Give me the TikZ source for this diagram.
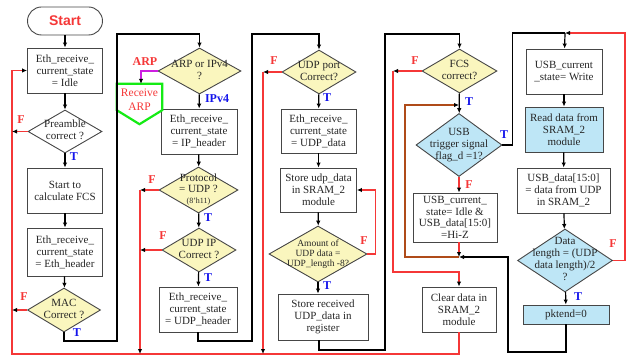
\documentclass[tikz,border=0pt]{standalone}
\usepackage{fontspec}
\setmainfont{Liberation Serif}
\newfontfamily\sansbold{Liberation Sans}
\usetikzlibrary{shapes.geometric,arrows.meta}

\definecolor{dyellow}{RGB}{250,246,190}
\definecolor{dblue}{RGB}{190,230,246}
\definecolor{fred}{RGB}{245,55,55}
\definecolor{tblue}{RGB}{20,20,235}
\definecolor{lbrown}{RGB}{175,75,25}
\definecolor{lmag}{RGB}{205,30,225}
\definecolor{agreen}{RGB}{20,235,20}
\definecolor{edge}{RGB}{70,70,70}

\newcommand{\dlines}[1]{\raisebox{-2.7pt}[0pt][0pt]{\makebox[0pt]{\begin{tabular}{@{}c@{}}#1\end{tabular}}}}

\tikzset{
  procbox/.style={draw=edge, line width=0.9pt, fill=white, text=black!85, align=center,
    inner sep=1pt, font=\fontsize{11}{12}\selectfont},
  condbox/.style={diamond, draw=edge, line width=0.9pt, fill=dyellow, text=black!85,
    inner sep=0pt, font=\fontsize{11}{12}\selectfont},
  flowline/.style={-{Latex[length=5pt,width=4.5pt]}, line width=1.2pt, black},
  joinline/.style={line width=1.2pt, black},
  falseline/.style={-{Latex[length=5pt,width=4.5pt,color=black]}, line width=1.2pt, fred},
  tlabel/.style={text=tblue, font=\bfseries\fontsize{12}{12}\selectfont, inner sep=0pt},
  flabel/.style={text=fred, font=\bfseries\fontsize{12}{12}\selectfont, inner sep=0pt},
}

\begin{document}
\begin{tikzpicture}[x=1pt,y=-1pt]
  \useasboundingbox (0,0) rectangle (629,358);

  % column 1
  \node[procbox, rounded corners=14pt, minimum width=75pt, minimum height=28pt,
    text=fred, font=\sansbold\bfseries\fontsize{14}{14}\selectfont] (start) at (65,21) {Start};
  \node[procbox, minimum width=75pt, minimum height=45pt] (idle) at (65,70.5)
    {Eth\_receive\_\\current\_state\\= Idle};
  \node[condbox, fill=white, minimum width=74pt, minimum height=43pt] (pre) at (65,131.5)
    {\dlines{Preamble\\correct ?}};
  \node[procbox, minimum width=75pt, minimum height=45pt] (fcs) at (65,190.5)
    {Start to\\calculate FCS};
  \node[procbox, minimum width=75pt, minimum height=48pt] (ethh) at (65,252)
    {Eth\_receive\_\\current\_state\\= Eth\_header};
  \node[condbox, minimum width=73pt, minimum height=44pt] (mac) at (64,310)
    {\dlines{MAC\\Correct ?}};

  % column 2
  \node[condbox, minimum width=83pt, minimum height=46pt] (arp) at (199.5,71)
    {\dlines{ARP or IPv4\\?}};
  \node[text=fred, align=center, inner sep=0pt, minimum width=45pt, minimum height=32pt,
    font=\fontsize{11.5}{14}\selectfont] (rarp) at (139.5,100) {Receive\\ARP};
  \node[procbox, minimum width=76pt, minimum height=45pt] (iph) at (199,131.5)
    {Eth\_receive\_\\current\_state\\= IP\_header};
  \node[condbox, minimum width=79pt, minimum height=46pt, font=\fontsize{11}{11}\selectfont]
    (proto) at (198.5,190)
    {\dlines{Protocol\\= UDP ?\\{\fontsize{8}{8}\selectfont(8'h11)}}};
  \node[condbox, minimum width=74pt, minimum height=44pt] (udpip) at (199,250)
    {\dlines{UDP IP\\Correct ?}};
  \node[procbox, minimum width=78pt, minimum height=45pt] (udph) at (198,309.5)
    {Eth\_receive\_\\current\_state\\= UDP\_header};

  % column 3
  \node[condbox, minimum width=74pt, minimum height=44pt] (udpport) at (319,72)
    {\dlines{UDP port\\Correct?}};
  \node[procbox, minimum width=75pt, minimum height=44pt] (udpd) at (318.5,131)
    {Eth\_receive\_\\current\_state\\= UDP\_data};
  \node[procbox, minimum width=76pt, minimum height=44pt] (sram) at (318.5,190)
    {Store udp\_data\\in SRAM\_2\\module};
  \node[condbox, minimum width=98pt, minimum height=56pt, font=\fontsize{9.5}{10}\selectfont]
    (amount) at (318,254) {\dlines{Amount of\\UDP data =\\UDP\_length -8?}};
  \node[procbox, minimum width=90pt, minimum height=46pt] (reg) at (323,317)
    {Store received\\UDP\_data in\\register};

  % column 4
  \node[condbox, minimum width=75pt, minimum height=44pt] (fcsd) at (459.5,71)
    {\dlines{FCS\\correct?}};
  \node[condbox, fill=dblue, minimum width=86pt, minimum height=63pt] (usb) at (459,145)
    {\dlines{USB\\trigger signal\\flag\_d =1?}};
  \node[procbox, minimum width=84pt, minimum height=49pt, font=\fontsize{11}{11.7}\selectfont]
    (usbidle) at (455,217.5)
    {USB\_current\_\\state= Idle \&\\USB\_data[15:0]\\=Hi-Z};
  \node[procbox, minimum width=74pt, minimum height=45pt] (clear) at (459,309.5)
    {Clear data in\\SRAM\_2\\module};

  % column 5
  \node[procbox, minimum width=76pt, minimum height=45pt] (write) at (564,71.5)
    {USB\_current\\\_state= Write};
  \node[procbox, fill=dblue, minimum width=78pt, minimum height=45pt] (read) at (564,129.5)
    {Read data from\\SRAM\_2\\module};
  \node[procbox, minimum width=93pt, minimum height=45pt] (usbd) at (563.5,190.5)
    {USB\_data[15:0]\\= data from UDP\\in SRAM\_2};
  \node[condbox, fill=dblue, minimum width=95pt, minimum height=63pt] (dlen) at (565,260.5)
    {\dlines{Data\\length = (UDP\\data length)/2\\?}};
  \node[procbox, fill=dblue, minimum width=86pt, minimum height=19pt] (pkt) at (566,314.5)
    {pktend=0};

  % labels
  \node[flabel] (fpre) at (21,120) {F};
  \node[tlabel] (tpre) at (74,157) {T};
  \node[flabel] (fmac) at (24,297) {F};
  \node[tlabel] (tmac) at (77,333) {T};
  \node[flabel] (farp) at (145,62) {ARP};
  \node[tlabel] (tarp) at (217,99) {IPv4};
  \node[flabel] (fproto) at (152,180) {F};
  \node[tlabel] (tproto) at (208,218) {T};
  \node[flabel] (fudpip) at (163,236) {F};
  \node[tlabel] (tudpip) at (208,278) {T};
  \node[flabel] (fport) at (274,61) {F};
  \node[tlabel] (tport) at (327,98) {T};
  \node[flabel] (famount) at (364,241) {F};
  \node[tlabel] (tamount) at (327,286) {T};
  \node[flabel] (ffcs) at (415,61) {F};
  \node[tlabel] (tfcs) at (469,102) {T};
  \node[tlabel] (tusb) at (504,135) {T};
  \node[flabel] (fusb) at (469,185) {F};
  \node[flabel] (fdlen) at (613,244) {F};
  \node[tlabel] (tdlen) at (578,297) {T};

  % junctions
  \coordinate (lred) at (12,354);
  \coordinate (lp) at (140,354);
  \coordinate (lu) at (263,354);
  \coordinate (lf) at (393,272);
  \coordinate (c1a) at (117,341);
  \coordinate (c1b) at (117,34);
  \coordinate (c2a) at (252,341);
  \coordinate (c2b) at (252,34);
  \coordinate (c3a) at (385,350);
  \coordinate (c3b) at (385,34);
  \coordinate (top5) at (565,33);
  \coordinate (j4) at (459,257);
  \coordinate (br) at (405,105);
  \coordinate (c5a) at (508,352);

  % receive ARP outline
  \draw[agreen, line width=2.2pt, line join=miter] (rarp.north west) -- (rarp.north east)
    -- ([yshift=6pt]rarp.south east) -- ([yshift=-8pt]rarp.south)
    -- ([yshift=6pt]rarp.south west) -- cycle;

  % main flow
  \draw[flowline] (start) -- (idle);
  \draw[flowline] (idle) -- (pre);
  \draw[flowline] (pre) -- (fcs);
  \draw[flowline] (fcs) -- (ethh);
  \draw[flowline] (ethh) -- (mac);
  \draw[flowline] (mac.south) |- (c1a) -- (c1b) -| (arp.north);
  \draw[flowline] (arp) -- (iph);
  \draw[flowline] (iph) -- (proto);
  \draw[flowline] (proto) -- (udpip);
  \draw[flowline] (udpip) -- (udph);
  \draw[flowline] (udph.south) |- (c2a) -- (c2b) -| (udpport.north);
  \draw[flowline] (udpport) -- (udpd);
  \draw[flowline] (udpd) -- (sram);
  \draw[flowline] (sram) -- (amount);
  \draw[flowline] (amount.south) -- (amount.south |- reg.north);
  \draw[flowline] ([xshift=-4pt]reg.south) |- (c3a) -- (c3b) -| (fcsd.north);
  \draw[flowline] (fcsd) -- (usb);
  \draw[joinline] (usb.east) -- ++(10,0) |- (top5);
  \draw[flowline] (top5) -- (write);
  \draw[flowline] (write) -- (read);
  \draw[flowline] (read) -- (usbd);
  \draw[flowline] (usbd) -- (dlen);
  \draw[flowline] (dlen) -- (pkt);
  \draw[flowline] (pkt.south) |- (c5a) |- (j4);

  % false branches
  \draw[falseline] (clear.south) |- (lred) |- (idle.west);
  \draw[falseline] (pre.west) -- (pre.west -| lred);
  \draw[falseline] (mac.west) -- (mac.west -| lred);
  \draw[-{Latex[length=5pt,width=4.5pt,color=black]}, lmag, line width=1.2pt]
    (arp.west) -| ([xshift=1.5pt]rarp.north);
  \draw[falseline] (proto.west) -- (proto.west -| lp);
  \draw[falseline] (proto.west -| lp) -- (lp);
  \draw[falseline] (udpip.west) -- (udpip.west -| lp);
  \draw[falseline] (udpport.west) -- (udpport.west -| lu);
  \draw[falseline] (udpport.west -| lu) -- (lu);
  \draw[falseline] (amount.east) -- ++(8,0) |- (sram.east);
  \draw[falseline] (fcsd.west) -- (fcsd.west -| lf);
  \draw[falseline] (fcsd.west -| lf) -- (lf) -| (clear.north);
  \draw[falseline] (usb.south) -- (usb.south |- usbidle.north);
  \draw[falseline] (usbidle.south -| j4) -- (j4);
  \draw[falseline] (dlen.east) -- ++(12,0) |- (top5);
  \draw[-{Latex[length=5pt,width=4.5pt,color=black]}, lbrown, line width=1.2pt]
    (j4) -| (br) -- (br -| usb.north);
\end{tikzpicture}
\end{document}
